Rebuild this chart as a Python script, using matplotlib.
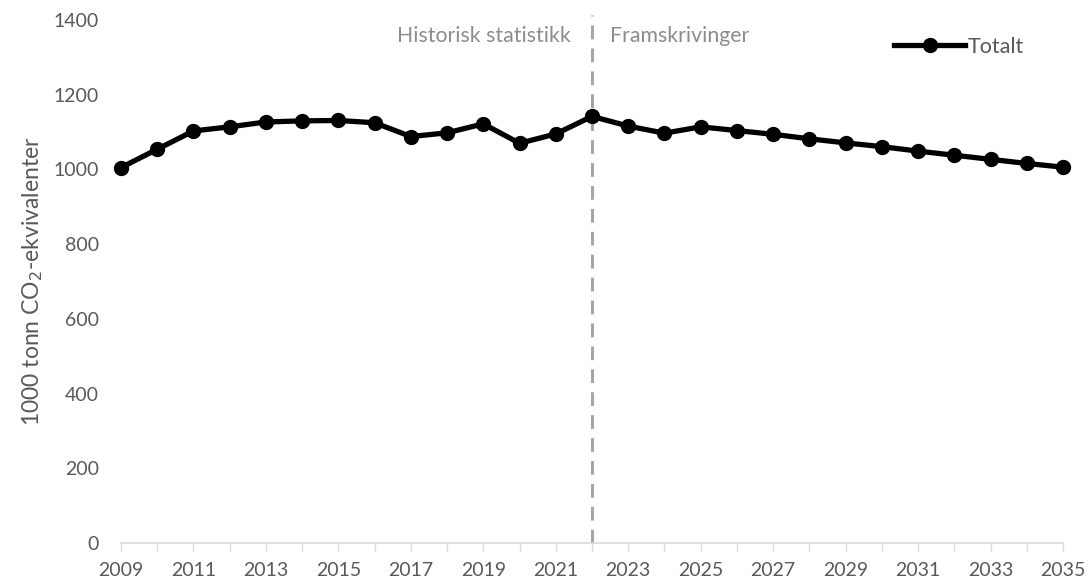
import matplotlib
matplotlib.use("Agg")
import matplotlib.pyplot as plt
from matplotlib.lines import Line2D

years = list(range(2009, 2036))
totalt = [1005, 1054, 1103, 1114, 1127, 1130, 1131, 1125, 1088, 1098,
          1122, 1070, 1095, 1142, 1116, 1097, 1114, 1104, 1094, 1082,
          1071, 1061, 1049, 1038, 1027, 1016, 1006]
xtick_years = list(range(2009, 2036, 2))
yticks = [0, 200, 400, 600, 800, 1000, 1200, 1400]
split_year = 2022

plt.rcParams['font.family'] = ['Lato', 'DejaVu Sans']
text_col = '#595959'
axis_col = '#d9d9d9'

fig = plt.figure(figsize=(10.88, 5.82), dpi=100)
ax = fig.add_axes([121 / 1088, 39 / 582, 942 / 1088, 523 / 582])

ax.plot(years, totalt, color='black', lw=3.8, marker='o', markersize=10,
        solid_capstyle='round', zorder=3, clip_on=False)

ax.axvline(split_year, ymin=0, ymax=1.01, color='#a6a6a6', lw=2.2,
           dashes=(4.5, 3), zorder=2, clip_on=False)
ax.text(split_year - 0.6, 1358, 'Historisk statistikk', ha='right', va='center',
        fontsize=15.3, color='#8c8c8c')
ax.text(split_year + 0.5, 1358, 'Framskrivinger', ha='left', va='center',
        fontsize=15.3, color='#8c8c8c')

ax.set_xlim(2009, 2035)
ax.set_ylim(0, 1400)
ax.set_xticks(xtick_years)
ax.set_xticks(years, minor=True)
ax.set_yticks(yticks)
ax.tick_params(axis='x', which='both', direction='out', length=6, width=1,
               color=axis_col, labelsize=14, labelcolor=text_col, pad=8)
ax.tick_params(axis='y', length=0, labelsize=14, labelcolor=text_col, pad=16)

for s in ['top', 'right', 'left']:
    ax.spines[s].set_visible(False)
ax.spines['bottom'].set_color(axis_col)
ax.spines['bottom'].set_linewidth(1.2)

ax.set_ylabel('1000 tonn CO$_2$-ekvivalenter', fontsize=16.5, color=text_col,
              labelpad=6)

handle = Line2D([], [], color='black', lw=3.8, marker='o', markersize=10)
leg = ax.legend([handle], ['Totalt'], loc='upper right',
                bbox_to_anchor=(0.972, 0.993), frameon=False, fontsize=15.5,
                handlelength=3.3, handletextpad=0.1, borderaxespad=0.2)
for t in leg.get_texts():
    t.set_color(text_col)

fig.savefig('out.png', dpi=100)
